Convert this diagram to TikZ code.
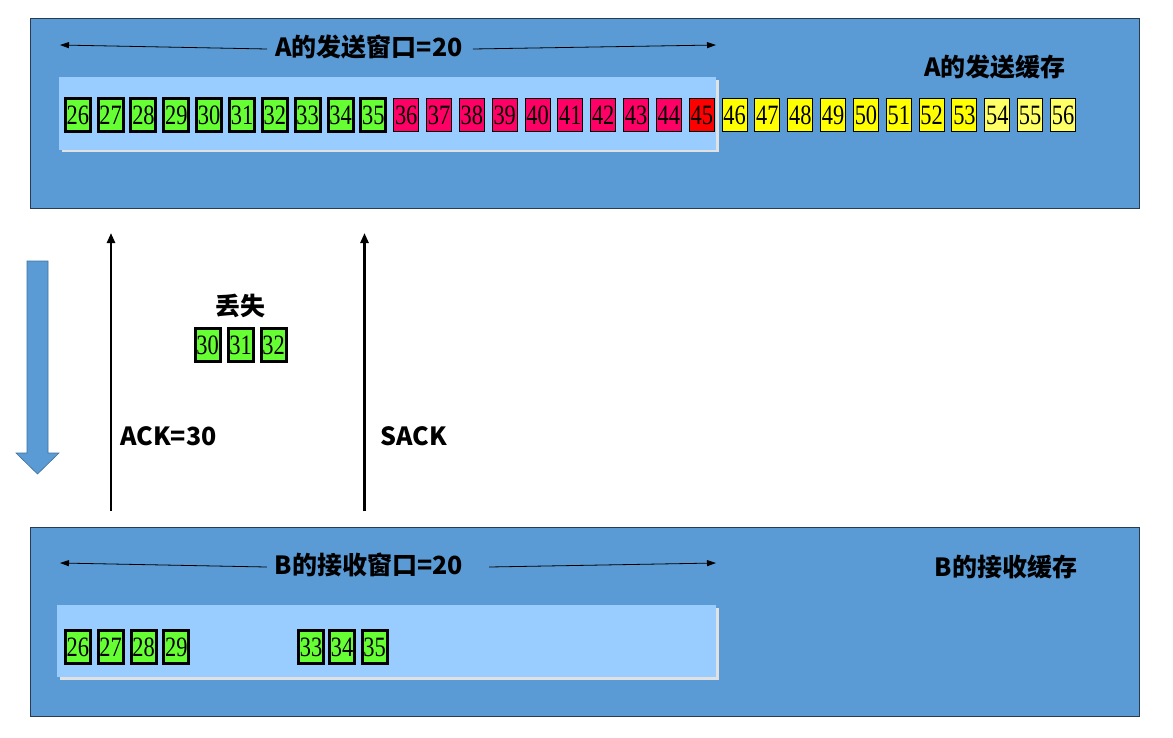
\documentclass[tikz,border=0pt]{standalone}
\usepackage{fontspec}
\newfontfamily\cjk{Noto Sans CJK SC}
\newfontfamily\numfont[FakeStretch=0.8]{Liberation Serif}
\usetikzlibrary{arrows.meta}
\definecolor{panelblue}{RGB}{91,155,213}
\definecolor{panelline}{RGB}{40,60,80}
\definecolor{innerblue}{RGB}{153,204,255}
\definecolor{shadowgrey}{RGB}{225,225,225}
\definecolor{pktgreen}{RGB}{102,255,51}
\definecolor{pktpink}{RGB}{255,0,102}
\definecolor{pktred}{RGB}{255,0,0}
\definecolor{pktyellow}{RGB}{255,255,0}
\definecolor{pktlyellow}{RGB}{255,255,102}
\definecolor{arrowline}{RGB}{65,113,156}
\tikzset{
  panel/.style={fill=panelblue,draw=panelline,line width=0.8pt},
  pkt/.style={draw=black,minimum width=25pt,minimum height=33pt,inner sep=0pt,
    font=\numfont\fontsize{28}{28}\selectfont},
  acked/.style={pkt,fill=pktgreen,line width=3pt},
  sent/.style={pkt,fill=pktpink,line width=1pt},
  last/.style={pkt,fill=pktred,line width=1pt},
  avail/.style={pkt,fill=pktyellow,line width=1pt},
  availlight/.style={pkt,fill=pktlyellow,line width=1pt},
  lbl/.style={font=\cjk\bfseries\fontsize{25}{25}\selectfont,inner sep=0pt},
  winarrow/.style={line width=0.8pt,-{Triangle[length=9pt,width=6pt]}},
  ackarrow/.style={line width=2.4pt,-{Triangle[length=10pt,width=8pt]}},
}
\begin{document}
\begin{tikzpicture}[x=1pt,y=-1pt]
\useasboundingbox[fill=white] (0,0) rectangle (1173,737);
% top panel
\node[panel,minimum width=1109pt,minimum height=190pt,anchor=north west,inner sep=0pt] (toppanel) at (30,18) {};
\fill[shadowgrey] (62,80) rectangle (719,152);
\fill[innerblue] (59,77) rectangle (716,150);
\node[lbl] (wA) at (369,47) {A的发送窗口=20};
\coordinate (wAL) at (60,45);
\coordinate (wAR) at (716,45);
\draw[winarrow] ([xshift=-8pt,yshift=-2pt]wA.west) -- (wAL);
\draw[winarrow] ([xshift=10pt,yshift=-2pt]wA.east) -- (wAR);
\node[lbl] (bufA) at (995,67) {A的发送缓存};
\foreach \n in {26,...,56}{
  \pgfmathsetmacro{\xx}{77.8+32.84*(\n-26)}
  \ifnum\n<36
    \node[acked] (a\n) at (\xx,115) {\n};
  \else\ifnum\n<45
    \node[sent] (a\n) at (\xx,115) {\n};
  \else\ifnum\n=45
    \node[last] (a\n) at (\xx,115) {\n};
  \else\ifnum\n<54
    \node[avail] (a\n) at (\xx,115) {\n};
  \else
    \node[availlight] (a\n) at (\xx,115) {\n};
  \fi\fi\fi\fi
}
% bottom panel
\node[panel,minimum width=1109pt,minimum height=189pt,anchor=north west,inner sep=0pt] (botpanel) at (30,527) {};
\fill[shadowgrey] (60,608) rectangle (719,680);
\fill[innerblue] (57,605) rectangle (716,677);
\node[lbl] (wB) at (369,565) {B的接收窗口=20};
\coordinate (wBL) at (60,563);
\coordinate (wBR) at (716,563);
\draw[winarrow] ([xshift=-8pt,yshift=-2pt]wB.west) -- (wBL);
\draw[winarrow] ([xshift=26pt,yshift=-2pt]wB.east) -- (wBR);
\node[lbl] (bufB) at (1006,567) {B的接收缓存};
\foreach \n/\xx in {26/77.8,27/110.6,28/143.5,29/176.3,33/311,34/342,35/374.5}{
  \node[acked] (b\n) at (\xx,647) {\n};
}
% big blue arrow
\fill[panelblue,draw=arrowline,line width=0.6pt] (27,261) -- (48,261) -- (48,453) -- (59,453) -- (37.5,474) -- (16,453) -- (27,453) -- cycle;
% ACK arrows
\coordinate (ackB) at (111,511);
\coordinate (ackA) at (111,233);
\coordinate (sackB) at (364.5,511);
\coordinate (sackA) at (364.5,233);
\draw[ackarrow] (ackB) -- (ackA);
\draw[ackarrow] (sackB) -- (sackA);
\node[lbl,anchor=west] (ack) at (120,436) {ACK=30};
\node[lbl,anchor=west] (sack) at (380,436) {SACK};
% lost packets
\node[lbl] (lost) at (240,306) {丢失};
\node[acked] (l30) at (207.5,345) {30};
\node[acked] (l31) at (240.5,345) {31};
\node[acked] (l32) at (273.5,345) {32};
\end{tikzpicture}
\end{document}
